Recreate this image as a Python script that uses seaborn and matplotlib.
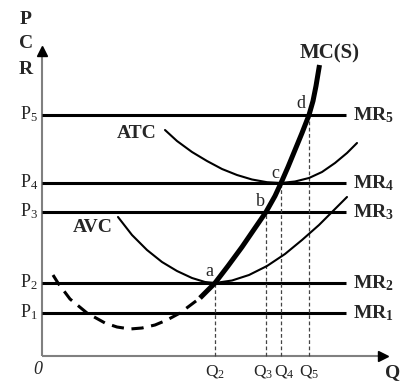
import numpy as np
import pandas as pd
import matplotlib
matplotlib.use('Agg')
import matplotlib.pyplot as plt
import seaborn as sns

# =============================
# Data
# =============================
price_levels = [4.3, 7.3, 14.4, 17.3, 24.1]          # P1..P5
price_labels = [r'$\mathrm{P}_1$', r'$\mathrm{P}_2$', r'$\mathrm{P}_3$', r'$\mathrm{P}_4$', r'$\mathrm{P}_5$']
mr_labels = [r'$\mathbf{MR}_\mathbf{1}$', r'$\mathbf{MR}_\mathbf{2}$', r'$\mathbf{MR}_\mathbf{3}$',
             r'$\mathbf{MR}_\mathbf{4}$', r'$\mathbf{MR}_\mathbf{5}$']
mr_end = 30.4

q_levels = [17.3, 22.4, 23.9, 26.7]                    # Q2..Q5
q_prices = [7.3, 14.4, 17.3, 24.1]
q_labels = [r'$\mathrm{Q}_2$', r'$\mathrm{Q}_3$', r'$\mathrm{Q}_4$', r'$\mathrm{Q}_5$']
q_label_shift = [0.0, -0.3, 0.3, 0.0]
point_names = ['a', 'b', 'c', 'd']

mc_q = [1.1, 1.6, 2.8, 4.5, 6.3, 7.5, 8.8, 10.0, 11.3, 12.5, 13.8, 15.8, 17.3,
        18.6, 20.0, 21.3, 22.4, 23.3, 23.9, 24.6, 25.3, 26.0, 26.7, 27.1, 27.4, 27.6, 27.75]
mc_p = [8.1, 7.3, 5.7, 4.3, 3.3, 2.9, 2.7, 2.8, 3.1, 3.6, 4.3, 5.8, 7.3,
        9.0, 10.9, 12.8, 14.4, 16.0, 17.3, 18.9, 20.6, 22.3, 24.1, 25.5, 27.0, 28.2, 29.1]
mc_split = 12  # dashed up to point a, thick solid from there

avc_q = [7.6, 9.0, 10.5, 12.0, 13.5, 15.0, 16.3, 17.3, 19.0, 20.7, 22.5, 24.3, 26.0, 27.7, 29.3, 30.5]
avc_p = [13.9, 12.1, 10.6, 9.4, 8.5, 7.8, 7.4, 7.3, 7.55, 8.1, 9.0, 10.2, 11.6, 13.1, 14.7, 15.9]

atc_q = [12.3, 13.5, 15.0, 16.5, 18.0, 19.5, 21.0, 22.5, 23.9, 25.3, 26.7, 28.0, 29.3, 30.5, 31.5]
atc_p = [22.6, 21.5, 20.4, 19.5, 18.7, 18.1, 17.65, 17.38, 17.3, 17.45, 17.8, 18.4, 19.3, 20.3, 21.3]

# =============================
# Style
# =============================
sns.set_theme(style='white')
plt.rcParams['font.family'] = ['Liberation Serif', 'DejaVu Serif']
plt.rcParams['mathtext.fontset'] = 'custom'
plt.rcParams['mathtext.rm'] = 'Liberation Serif'
plt.rcParams['mathtext.bf'] = 'Liberation Serif:bold'
plt.rcParams['mathtext.it'] = 'Liberation Serif:italic'

fig = plt.figure(figsize=(4.11, 3.91), dpi=100)
ax = fig.add_axes([0, 0, 1, 1])

# =============================
# Axes with arrows
# =============================
axis_grey = '#808080'
ax.plot([0, 0], [0, 30.4], color=axis_grey, lw=1.5, solid_capstyle='butt')
ax.plot([0, 34.0], [0, 0], color=axis_grey, lw=1.5, solid_capstyle='butt')
ax.plot(0, 30.5, marker='^', color='black', markersize=7)
ax.plot(34.1, 0, marker='>', color='black', markersize=7)

# =============================
# MR lines and dashed drop lines
# =============================
for p, lab, mr in zip(price_levels, price_labels, mr_labels):
    ax.hlines(p, 0, mr_end, color='black', lw=2.2)
    ax.text(-0.4, p + 0.1, lab, ha='right', va='center', fontsize=13)
    ax.text(31.1, p, mr, ha='left', va='center', fontsize=14)

for q, p, lab, dx in zip(q_levels, q_prices, q_labels, q_label_shift):
    ax.vlines(q, 0, p, color='#444444', lw=0.9, linestyles=(0, (3, 2)))
    ax.text(q + dx, -1.6, lab, ha='center', va='center', fontsize=12.5)

# =============================
# Cost curves
# =============================
mc_df = pd.DataFrame({'Q': mc_q, 'P': mc_p})
avc_df = pd.DataFrame({'Q': avc_q, 'P': avc_p})
atc_df = pd.DataFrame({'Q': atc_q, 'P': atc_p})

sns.lineplot(data=mc_df.iloc[:mc_split + 1], x='Q', y='P', sort=False, estimator=None,
             color='black', lw=2.2, ax=ax, linestyle=(0, (4, 2.5)))
sns.lineplot(data=mc_df.iloc[mc_split - 1:], x='Q', y='P', sort=False, estimator=None,
             color='black', lw=3.6, ax=ax, solid_capstyle='butt', solid_joinstyle='round')
sns.lineplot(data=avc_df, x='Q', y='P', sort=False, estimator=None, color='black', lw=1.5, ax=ax)
sns.lineplot(data=atc_df, x='Q', y='P', sort=False, estimator=None, color='black', lw=1.5, ax=ax)

ax.set_xlim(-4.2, 36.9)
ax.set_ylim(-3.5, 35.6)
ax.axis('off')

# =============================
# Labels
# =============================
bold = dict(fontsize=14, fontweight='bold', ha='center', va='center')
ax.text(-1.6, 33.6, 'P', **bold)
ax.text(-1.6, 31.2, 'C', **bold)
ax.text(-1.6, 28.7, 'R', **bold)
ax.text(35.1, -1.7, 'Q', **bold)
ax.text(-0.4, -1.4, '0', fontsize=13, style='italic', ha='center', va='center')

ax.text(28.8, 30.3, 'MC(S)', fontsize=15, fontweight='bold', ha='center', va='center')
ax.text(9.5, 22.3, 'ATC', **bold)
ax.text(5.1, 12.9, 'AVC', **bold)

label_pos = [(16.7, 8.4), (21.8, 15.5), (23.3, 18.2), (25.9, 25.2)]
for name, (x, y) in zip(point_names, label_pos):
    ax.text(x, y, name, fontsize=13, ha='center', va='center')

fig.savefig('out.png', dpi=100)
